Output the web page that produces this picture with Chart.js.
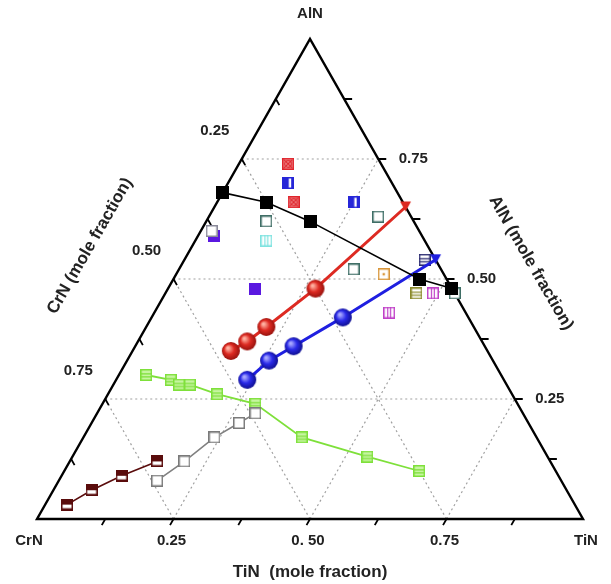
<!DOCTYPE html>
<html>
<head>
<meta charset="utf-8">
<script src="https://cdn.jsdelivr.net/npm/chart.js@4"></script>
<style>
  body { margin: 0; background: #fff; }
</style>
</head>
<body>
<canvas id="ternario" width="611" height="584"></canvas>
<script>
// every composition is [CrN, TiN, AlN] in mole fraction

// lines with markers
const linhaPreta = [[0.32, 0.00, 0.68], [0.25, 0.09, 0.66], [0.19, 0.19, 0.62], [0.05, 0.45, 0.50], [0.00, 0.52, 0.48]];
const linhaVermelha = [[0.47, 0.18, 0.35], [0.43, 0.20, 0.37], [0.38, 0.22, 0.40], [0.25, 0.27, 0.48], [0.00, 0.35, 0.65]];
const linhaAzul = [[0.47, 0.24, 0.29], [0.41, 0.26, 0.33], [0.35, 0.29, 0.36], [0.23, 0.35, 0.42], [0.00, 0.46, 0.54]];
const linhaVerde = [[0.65, 0.05, 0.30], [0.61, 0.10, 0.29], [0.60, 0.12, 0.28], [0.58, 0.14, 0.28], [0.54, 0.20, 0.26],
                    [0.48, 0.28, 0.24], [0.43, 0.40, 0.17], [0.33, 0.54, 0.13], [0.25, 0.65, 0.10]];
const linhaVinho = [[0.93, 0.04, 0.03], [0.87, 0.07, 0.06], [0.80, 0.11, 0.09], [0.72, 0.16, 0.12]];
const linhaCinza = [[0.74, 0.18, 0.08], [0.67, 0.21, 0.12], [0.59, 0.24, 0.17], [0.53, 0.27, 0.20], [0.49, 0.29, 0.22]];

// single samples
const cruzVermelha = [[0.17, 0.09, 0.74], [0.20, 0.14, 0.66]];
const meioAzul = [[0.19, 0.11, 0.70], [0.09, 0.25, 0.66]];
const abertoVerdeEsc = [[0.06, 0.31, 0.63], [0.27, 0.11, 0.62], [0.16, 0.32, 0.52], [0.00, 0.53, 0.47]];
const abertoCiano = [[0.29, 0.13, 0.58]];
const abertoCinza = [[0.38, 0.02, 0.60]];
const cheioRoxo = [[0.38, 0.03, 0.59], [0.36, 0.16, 0.48]];
const pontoLaranja = [[0.11, 0.38, 0.51]];
const barrasMagenta = [[0.14, 0.43, 0.43], [0.04, 0.49, 0.47]];
const faixasOliva = [[0.07, 0.46, 0.47]];
const faixasAnil = [[0.02, 0.44, 0.54]];

// axis ticks and labels
const fracTicks = [0.125, 0.25, 0.375, 0.5, 0.625, 0.75, 0.875];
const fracGrade = [0.25, 0.5, 0.75];
const rotulosTiN = ['0.25', '0. 50', '0.75'];
const rotulosCrN = ['0.25', '0.50', '0.75'];
const rotulosAlN = ['0.25', '0.50', '0.75'];

function paraXY(c) {
  return { x: c[1] + c[2] / 2, y: c[2] };
}

function marcador(cor, tipo, fundo = '#fff', lado = 12) {
  const c = document.createElement('canvas');
  c.width = c.height = lado;
  const g = c.getContext('2d');
  const s = lado;
  g.fillStyle = fundo;
  g.fillRect(0, 0, s, s);
  g.fillStyle = cor;
  g.strokeStyle = cor;
  g.lineWidth = 1.2;
  if (tipo === 'cheio') g.fillRect(0, 0, s, s);
  if (tipo === 'metade') { g.fillRect(0, 0, s * 0.55, s); g.fillRect(s * 0.75, 0, s * 0.25, s); }
  if (tipo === 'faixa') { g.fillRect(0, 0, s, s * 0.5); g.fillRect(0, s * 0.8, s, s * 0.2); }
  if (tipo === 'linhasH') {
    g.beginPath();
    g.moveTo(0, s * 0.4); g.lineTo(s, s * 0.4);
    g.moveTo(0, s * 0.65); g.lineTo(s, s * 0.65);
    g.stroke();
  }
  if (tipo === 'linhasV') {
    g.beginPath();
    g.moveTo(s * 0.38, 0); g.lineTo(s * 0.38, s);
    g.moveTo(s * 0.62, 0); g.lineTo(s * 0.62, s);
    g.stroke();
  }
  if (tipo === 'xis') {
    g.beginPath();
    g.moveTo(2, 2); g.lineTo(s - 2, s - 2);
    g.moveTo(s - 2, 2); g.lineTo(2, s - 2);
    g.stroke();
    g.beginPath();
    g.arc(s / 2, s / 2, s * 0.28, 0, Math.PI * 2);
    g.stroke();
  }
  if (tipo === 'ponto') { g.fillRect(s * 0.4, s * 0.4, s * 0.2, s * 0.2); }
  g.lineWidth = 1.5;
  g.strokeRect(0.75, 0.75, s - 1.5, s - 1.5);
  return c;
}

function esfera(claro, cor, escuro, r = 9) {
  const c = document.createElement('canvas');
  c.width = c.height = 2 * r + 2;
  const g = c.getContext('2d');
  const grad = g.createRadialGradient(r - 2, r - 2, 1, r + 1, r + 1, r + 1);
  grad.addColorStop(0, claro);
  grad.addColorStop(0.45, cor);
  grad.addColorStop(1, escuro);
  g.fillStyle = grad;
  g.beginPath();
  g.arc(r + 1, r + 1, r, 0, Math.PI * 2);
  g.fill();
  return c;
}

function ponta(cor) {
  const c = document.createElement('canvas');
  c.width = c.height = 13;
  const g = c.getContext('2d');
  g.fillStyle = cor;
  g.beginPath();
  g.moveTo(1, 1); g.lineTo(12, 1); g.lineTo(6.5, 11);
  g.closePath();
  g.fill();
  return c;
}

const esferaVermelha = esfera('#ffb0a0', '#dd2a22', '#8a0e0a');
const esferaAzul = esfera('#a8a8ff', '#2a2ae8', '#0a0a80');

function serieLinha(dados, cor, largura, estilos) {
  return {
    data: dados.map(paraXY),
    showLine: true,
    borderColor: cor,
    borderWidth: largura,
    pointStyle: estilos,
    pointRadius: 6,
    clip: false
  };
}

function serieAvulsa(dados, estilo) {
  return { data: dados.map(paraXY), showLine: false, pointStyle: estilo, pointRadius: 6, clip: false };
}

const datasets = [
  serieLinha(linhaVinho, '#5a0c0c', 1.6, marcador('#5a0c0c', 'faixa')),
  serieLinha(linhaCinza, '#808080', 1.6, marcador('#7a7a7a', 'aberto')),
  serieLinha(linhaVerde, '#7ee03a', 1.8, marcador('#7ee03a', 'linhasH', '#c6f5a0')),
  serieLinha(linhaPreta, '#000', 1.6, marcador('#000', 'cheio', '#000', 13)),
  serieLinha(linhaVermelha, '#dd2a22', 3, [esferaVermelha, esferaVermelha, esferaVermelha, esferaVermelha, ponta('#dd2a22')]),
  serieLinha(linhaAzul, '#1f1fe0', 3, [esferaAzul, esferaAzul, esferaAzul, esferaAzul, ponta('#1f1fe0')]),
  serieAvulsa(cruzVermelha, marcador('#e0242c', 'xis', '#f0a0a0')),
  serieAvulsa(meioAzul, marcador('#2626d8', 'metade')),
  serieAvulsa(abertoVerdeEsc, marcador('#3f6e66', 'aberto')),
  serieAvulsa(abertoCiano, marcador('#7fe3e0', 'linhasV')),
  serieAvulsa(abertoCinza, marcador('#8a8a9a', 'aberto')),
  serieAvulsa(cheioRoxo, marcador('#5a18e0', 'cheio')),
  serieAvulsa(pontoLaranja, marcador('#d9963a', 'ponto')),
  serieAvulsa(barrasMagenta, marcador('#c040c8', 'linhasV')),
  serieAvulsa(faixasOliva, marcador('#8a8a2a', 'linhasH')),
  serieAvulsa(faixasAnil, marcador('#2a2a70', 'linhasH'))
];

// triangle frame, dotted grid, ticks and texts
const moldura = {
  id: 'moldura',
  beforeDatasetsDraw(chart) {
    const g = chart.ctx;
    const p = c => {
      const q = paraXY(c);
      return [chart.scales.x.getPixelForValue(q.x), chart.scales.y.getPixelForValue(q.y)];
    };
    const seg = (a, b) => {
      const A = p(a), B = p(b);
      g.moveTo(A[0], A[1]); g.lineTo(B[0], B[1]);
    };
    g.save();
    g.strokeStyle = '#a0a0a0';
    g.lineWidth = 1.2;
    g.setLineDash([2, 3]);
    g.beginPath();
    fracGrade.forEach(v => {
      seg([1 - v, 0, v], [0, 1 - v, v]);
      seg([1 - v, v, 0], [0, v, 1 - v]);
      seg([v, 1 - v, 0], [v, 0, 1 - v]);
    });
    g.stroke();
    g.setLineDash([]);

    // edges
    g.strokeStyle = '#000';
    g.lineWidth = 2.4;
    g.beginPath();
    const A = p([1, 0, 0]), B = p([0, 1, 0]), C = p([0, 0, 1]);
    g.moveTo(A[0], A[1]); g.lineTo(B[0], B[1]); g.lineTo(C[0], C[1]); g.closePath();
    g.stroke();

    // ticks
    const dx = (A[0] - C[0]), dy = (A[1] - C[1]);
    const n = Math.hypot(dx, dy);
    const ux = dx / n, uy = dy / n;
    g.lineWidth = 1.8;
    g.beginPath();
    fracTicks.forEach(t => {
      const b = p([1 - t, t, 0]);
      g.moveTo(b[0], b[1]); g.lineTo(b[0] + ux * 7, b[1] + uy * 7);
      const l = p([t, 0, 1 - t]);
      g.moveTo(l[0], l[1]); g.lineTo(l[0] - ux * 7, l[1] + uy * 7);
      const r = p([0, 1 - t, t]);
      g.moveTo(r[0], r[1]); g.lineTo(r[0] + 8, r[1]);
    });
    g.stroke();

    // labels
    g.fillStyle = '#222';
    g.textAlign = 'center';
    g.textBaseline = 'middle';
    g.font = 'bold 15px "Liberation Sans", Arial, sans-serif';
    fracGrade.forEach((v, i) => {
      const b = p([1 - v, v, 0]);
      g.fillText(rotulosTiN[i], b[0] - 2, b[1] + 22);
      const l = p([v, 0, 1 - v]);
      g.fillText(rotulosCrN[i], l[0] - 27, l[1] - 28);
      const r = p([0, 1 - v, v]);
      g.fillText(rotulosAlN[i], r[0] + 35, r[1]);
    });
    g.fillText('CrN', A[0] - 8, A[1] + 22);
    g.fillText('TiN', B[0] + 3, B[1] + 22);
    g.fillText('AlN', C[0], C[1] - 25);

    g.font = 'bold 17px "Liberation Sans", Arial, sans-serif';
    g.fillText('TiN  (mole fraction)', (A[0] + B[0]) / 2, A[1] + 53);
    g.save();
    g.translate(90, 246);
    g.rotate(-Math.PI / 3);
    g.fillText('CrN (mole fraction)', 0, 0);
    g.restore();
    g.save();
    g.translate(531, 263);
    g.rotate(Math.PI / 3);
    g.fillText('AlN (mole fraction)', 0, 0);
    g.restore();
    g.restore();
  }
};

new Chart(document.getElementById('ternario').getContext('2d'), {
  type: 'scatter',
  data: { datasets },
  options: {
    responsive: false,
    animation: false,
    devicePixelRatio: 1,
    layout: { padding: { left: 37, right: 28, top: 39, bottom: 65 } },
    scales: {
      x: { type: 'linear', min: 0, max: 1, display: false },
      y: { type: 'linear', min: 0, max: 1, display: false }
    },
    plugins: { legend: { display: false }, tooltip: { enabled: false } }
  },
  plugins: [moldura]
});
</script>
</body>
</html>
